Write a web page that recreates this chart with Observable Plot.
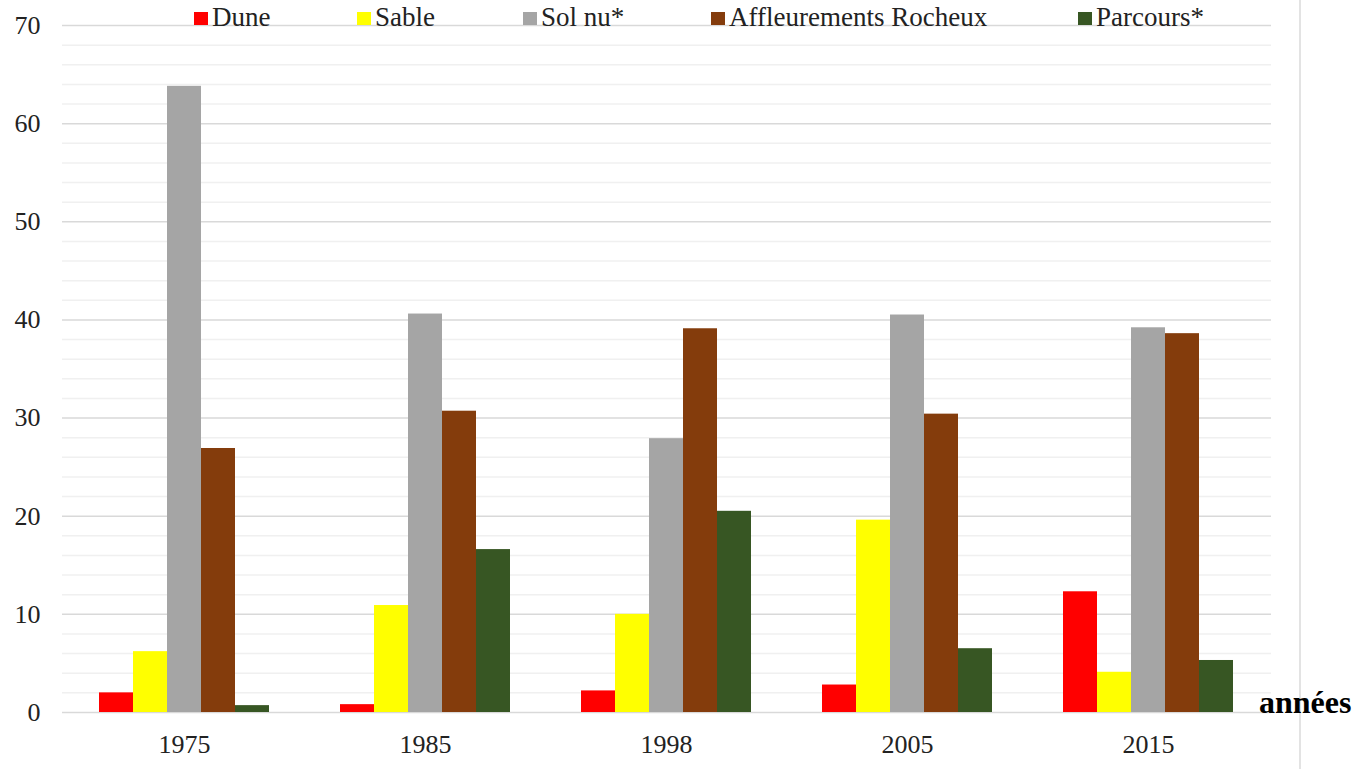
<!DOCTYPE html>
<html>
<head>
<meta charset="utf-8">
<script src="https://cdn.jsdelivr.net/npm/d3@7"></script>
<script src="https://cdn.jsdelivr.net/npm/@observablehq/plot@0.6"></script>
<style>
  html, body { margin: 0; padding: 0; background: #fff; }
  #wrap { position: relative; width: 1355px; height: 769px; overflow: hidden; font-family: "Liberation Serif", "Times New Roman", serif; }
  #grid, #chart { position: absolute; left: 0; top: 0; }
  #wrap svg text { font-family: "Liberation Serif", "Times New Roman", serif; }
  #legend { position: absolute; top: 0; left: 0; width: 1355px; height: 40px; }
  .li { position: absolute; top: 0px; font-size: 27px; color: #222; white-space: nowrap; line-height: 34px; }
  .li .sw { display: inline-block; width: 14px; height: 13px; margin-right: 4px; vertical-align: 1px; }
  #annees { position: absolute; left: 1259px; top: 684px; font-size: 32px; font-weight: bold; color: #000; }
  #vline { position: absolute; left: 1299px; top: 0; width: 2px; height: 769px; background: #e3e3e3; }
</style>
</head>
<body>
<div id="wrap">
  <div id="grid"></div>
  <div id="chart"></div>
  <div id="vline"></div>
  <div id="legend"></div>
  <div id="annees">années</div>
</div>
<script>
const years = ["1975", "1985", "1998", "2005", "2015"];
const categories = ["Dune", "Sable", "Sol nu*", "Affleurements Rocheux", "Parcours*"];
const colors = ["#FF0000", "#FFFF00", "#A5A5A5", "#843C0C", "#375623"];
const dune = [2.0, 0.8, 2.2, 2.8, 12.3];
const sable = [6.2, 10.9, 10.0, 19.6, 4.1];
const solNu = [63.8, 40.6, 27.9, 40.5, 39.2];
const affleurements = [26.9, 30.7, 39.1, 30.4, 38.6];
const parcours = [0.7, 16.6, 20.5, 6.5, 5.3];
const yTicks = [0, 10, 20, 30, 40, 50, 60, 70];
const minorTicks = d3.range(0, 71, 2).filter(v => v % 10 !== 0);

const series = [dune, sable, solNu, affleurements, parcours];
const data = [];
years.forEach((y, i) => categories.forEach((c, j) => data.push({year: y, cat: c, value: series[j][i]})));

const FONT = "'Liberation Serif', 'Times New Roman', serif";
const common = {
  width: 1355,
  height: 769,
  marginLeft: 62,
  marginRight: 84,
  marginTop: 25,
  marginBottom: 57,
  style: { fontFamily: FONT, fontSize: "26px", color: "#222", background: "transparent" },
  y: { domain: [0, 70], label: null }
};

// Layer 1: gridlines and y axis (spanning the full frame)
const grid = Plot.plot({
  ...common,
  marks: [
    Plot.ruleY(minorTicks, { stroke: "#f0f0f0", strokeWidth: 1.5 }),
    Plot.ruleY(yTicks, { stroke: "#d9d9d9", strokeWidth: 1.5 }),
    Plot.axisY(yTicks, { tickSize: 0, tickPadding: 22, fontSize: 26, fontFamily: FONT, label: null, fill: "#222" })
  ]
});
document.getElementById("grid").appendChild(grid);

// Layer 2: grouped bars and year axis
const chart = Plot.plot({
  ...common,
  fx: { domain: years, paddingInner: 0.286, paddingOuter: 0.143, label: null },
  x: { domain: categories, padding: 0, axis: null },
  color: { domain: categories, range: colors },
  marks: [
    Plot.barY(data, { fx: "year", x: "cat", y: "value", fill: "cat", inset: 0 }),
    Plot.axisY({ ticks: [], label: null, tickSize: 0 }),
    Plot.axisFx({ anchor: "bottom", tickSize: 0, tickPadding: 22, fontSize: 26, fontFamily: FONT, label: null, fill: "#222" })
  ]
});
document.getElementById("chart").appendChild(chart);

const legendX = [194, 357, 523, 711, 1078];
const legend = document.getElementById("legend");
categories.forEach((c, i) => {
  const d = document.createElement("div");
  d.className = "li";
  d.style.left = legendX[i] + "px";
  const sw = document.createElement("span");
  sw.className = "sw";
  sw.style.background = colors[i];
  d.appendChild(sw);
  d.appendChild(document.createTextNode(c));
  legend.appendChild(d);
});
</script>
</body>
</html>
